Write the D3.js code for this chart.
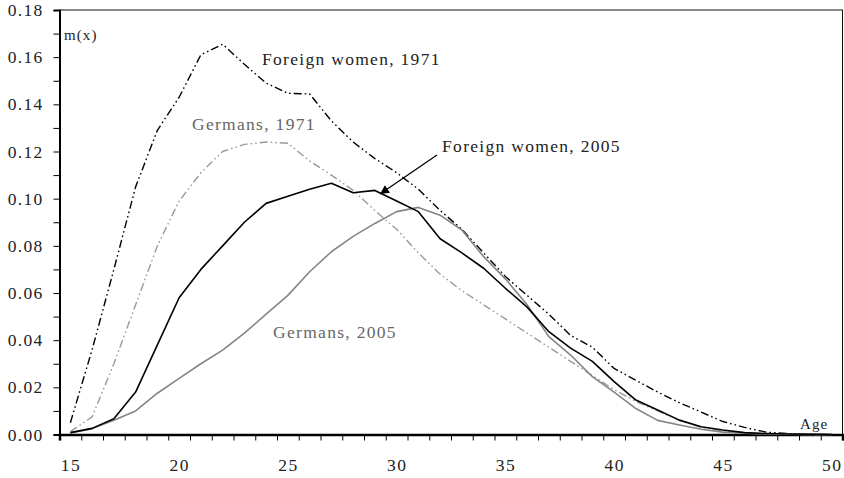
<!DOCTYPE html>
<html>
<head>
<meta charset="utf-8">
<script src="https://cdn.jsdelivr.net/npm/d3@7"></script>
<style>
  html, body { margin: 0; padding: 0; background: #fff; }
  svg { display: block; }
  #chart text { font-family: "Liberation Serif", "DejaVu Serif", serif; }
</style>
</head>
<body>
<svg id="chart" width="844" height="478"></svg>
<script>
// ---- data ----
const ages = d3.range(15, 51);
const foreignWomen1971 = [0.005,0.036,0.070,0.105,0.129,0.143,0.161,0.1655,0.157,0.149,0.1447,0.1444,0.133,0.124,0.117,0.111,0.104,0.095,0.087,0.077,0.067,0.059,0.051,0.042,0.037,0.028,0.023,0.018,0.0135,0.0095,0.0055,0.003,0.001,0.0004,0.0001,0];
const germans1971 = [0.0012,0.0075,0.030,0.055,0.080,0.099,0.111,0.120,0.123,0.124,0.1235,0.116,0.110,0.1035,0.095,0.087,0.077,0.068,0.061,0.055,0.049,0.043,0.037,0.031,0.025,0.019,0.014,0.010,0.006,0.003,0.0015,0.0007,0.0003,0.0001,0,0];
const foreignWomen2005 = [0.0008,0.0026,0.0067,0.018,0.038,0.058,0.070,0.080,0.090,0.098,0.101,0.104,0.1065,0.1025,0.1035,0.099,0.0945,0.083,0.077,0.0705,0.062,0.054,0.0436,0.0366,0.031,0.0224,0.0146,0.0104,0.0061,0.0033,0.0019,0.0008,0.0004,0.0002,0.0001,0];
const germans2005 = [0.0006,0.0025,0.006,0.010,0.0175,0.0238,0.030,0.0358,0.043,0.051,0.059,0.069,0.0775,0.084,0.0895,0.0945,0.0963,0.093,0.0867,0.0754,0.066,0.055,0.0415,0.0337,0.0245,0.018,0.011,0.006,0.004,0.0022,0.001,0.0005,0.0002,0.0001,0,0];
const xLabels = [15, 20, 25, 30, 35, 40, 45, 50];
const yTicks = d3.range(0, 19).map(i => i / 100);
const seriesNames = ["Foreign women, 1971", "Germans, 1971", "Foreign women, 2005", "Germans, 2005"];

// ---- layout ----
const svg = d3.select("#chart");
const L = 59.5, R = 842.5, T = 10, B = 434.5;
const x = d3.scaleLinear().domain([14.5, 50.5]).range([L, R]);
const y = d3.scaleLinear().domain([0, 0.18]).range([B, T]);

const fontSize = "17.5px", ls = "1.3px";

// plot frame (top & right thin)
svg.append("rect").attr("x", L).attr("y", T).attr("width", R - L).attr("height", B - T)
  .attr("fill", "none").attr("stroke", "#111").attr("stroke-width", 1);

// y axis
const yAxis = svg.append("g").attr("transform", `translate(${L},0)`)
  .call(d3.axisLeft(y).tickValues(yTicks).tickSize(6).tickPadding(10)
    .tickFormat(d => (Math.round(d * 100) % 2 === 0) ? d3.format(".2f")(d) : ""));
yAxis.attr("font-family", null).attr("font-size", null);
yAxis.select(".domain").attr("stroke", "#000").attr("stroke-width", 2);
yAxis.selectAll(".tick line").attr("stroke", "#000").attr("stroke-width", 1);
yAxis.selectAll("text").style("font-size", fontSize).style("letter-spacing", ls)
  .attr("fill", "#222");

// x axis minor ticks at category boundaries
const xTicks = svg.append("g").attr("transform", `translate(0,${B})`)
  .call(d3.axisBottom(x).tickValues(d3.range(14.5, 50.6, 1)).tickSize(6).tickFormat(""));
xTicks.select(".domain").attr("stroke", "#000").attr("stroke-width", 2.5);
xTicks.selectAll(".tick line").attr("stroke", "#000").attr("stroke-width", 1);

// x labels
const xLab = svg.append("g").attr("transform", `translate(0,${B})`)
  .call(d3.axisBottom(x).tickValues(xLabels).tickSize(0).tickPadding(24));
xLab.attr("font-family", null).attr("font-size", null);
xLab.select(".domain").remove();
xLab.selectAll("text").style("font-size", fontSize).style("letter-spacing", ls)
  .attr("fill", "#222");

// ---- lines ----
const line = d3.line().x(d => x(d[0])).y(d => y(d[1]));
const styles = [
  { data: foreignWomen1971, color: "#000", width: 1.4, dash: "8,3,1.6,3,1.6,3" },
  { data: germans1971, color: "#9a9a9a", width: 1.4, dash: "8,3,1.6,3,1.6,3" },
  { data: germans2005, color: "#858585", width: 1.6, dash: null },
  { data: foreignWomen2005, color: "#000", width: 1.6, dash: null }
];
styles.forEach(s => {
  svg.append("path")
    .datum(ages.map((a, i) => [a, s.data[i]]))
    .attr("d", line)
    .attr("fill", "none")
    .attr("stroke", s.color)
    .attr("stroke-width", s.width)
    .attr("stroke-linejoin", "round")
    .attr("stroke-dasharray", s.dash);
});

// ---- annotations ----
const labels = [
  { t: seriesNames[0], ax: 23.81, ay: 0.1567, c: "#222" },
  { t: seriesNames[1], ax: 20.59, ay: 0.1291, c: "#666" },
  { t: seriesNames[2], ax: 32.09, ay: 0.1198, c: "#222" },
  { t: seriesNames[3], ax: 24.32, ay: 0.0409, c: "#666" }
];
labels.forEach(l => {
  svg.append("text").attr("x", x(l.ax)).attr("y", y(l.ay)).text(l.t)
    .style("font-size", fontSize).style("letter-spacing", ls).attr("fill", l.c);
});
svg.append("text").attr("x", 64).attr("y", 40).text("m(x)")
  .style("font-size", "15px").style("letter-spacing", "1.1px").attr("fill", "#222");
svg.append("text").attr("x", 800).attr("y", 429).text("Age")
  .style("font-size", "15px").style("letter-spacing", "1.1px").attr("fill", "#222");

// arrow
svg.append("defs").append("marker")
  .attr("id", "ah").attr("viewBox", "0 0 10 10").attr("refX", 10).attr("refY", 5)
  .attr("markerWidth", 13).attr("markerHeight", 9).attr("markerUnits", "userSpaceOnUse")
  .attr("orient", "auto")
  .append("path").attr("d", "M0,0 L10,5 L0,10 Z").attr("fill", "#000");
svg.append("line")
  .attr("x1", 437).attr("y1", 155).attr("x2", 380).attr("y2", 194)
  .attr("stroke", "#000").attr("stroke-width", 1.3)
  .attr("marker-end", "url(#ah)");
</script>
</body>
</html>
